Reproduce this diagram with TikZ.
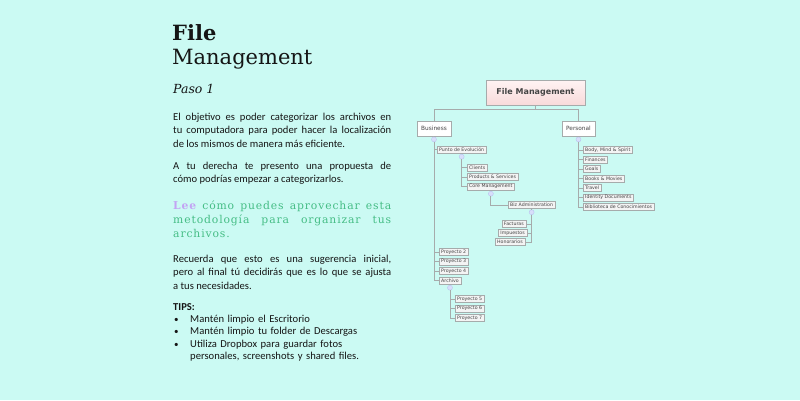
\documentclass[tikz,border=0pt]{standalone}
\usepackage{fontspec}
\usepackage{tikz}
\usetikzlibrary{positioning,calc}
\setmainfont{Carlito}
\newfontfamily\titlefont{DejaVu Serif}
\newfontfamily\spacedfont[LetterSpace=8]{DejaVu Serif}
\newfontfamily\boxfont{DejaVu Sans}
\definecolor{bg}{HTML}{CBFAF3}
\definecolor{ink}{HTML}{151515}
\definecolor{leafgreen}{HTML}{45BD85}
\definecolor{lilac}{HTML}{C3A3F3}
\definecolor{edge}{HTML}{A6ABAB}
\definecolor{boxink}{HTML}{444444}
\definecolor{leafgray}{HTML}{F4F4F4}
\definecolor{dotblue}{HTML}{D8DEFA}
\definecolor{knobedge}{HTML}{B9C3F0}
\definecolor{pinktop}{HTML}{FFF3F3}
\definecolor{pinkbot}{HTML}{F8DADA}

\begin{document}
\begin{tikzpicture}[x=1pt, y=-1pt,
body/.style={anchor=base west, inner sep=0, text width=218pt, align=justify, text=ink, font=\fontsize{10.6}{13.5}\selectfont},
rootbox/.style={draw=edge, top color=pinktop, bottom color=pinkbot, minimum width=99pt, minimum height=25pt, inner sep=0, text=boxink, font=\boxfont\bfseries\fontsize{8}{9}\selectfont},
mainbox/.style={draw=edge, fill=white, minimum height=15pt, inner xsep=3pt, inner ysep=0, text=boxink, font=\boxfont\fontsize{5.8}{7}\selectfont},
leafbox/.style={draw=edge, fill=leafgray, minimum height=7pt, inner xsep=2pt, inner ysep=0, text=boxink, font=\boxfont\fontsize{4.7}{5}\selectfont},
branch/.style={draw=edge, line width=0.8pt},
knob/.style={circle, draw=knobedge, fill=dotblue, inner sep=0, minimum size=5pt}
]
\useasboundingbox[fill=bg] (0,0) rectangle (800,400);

\node[anchor=north west, inner sep=0, align=left, text=ink, font=\titlefont\fontsize{21}{24}\selectfont] (title) at (172,24) {\textbf{File}\\Management};
\node[anchor=base west, inner sep=0, text=ink, font=\titlefont\itshape\fontsize{12.5}{14}\selectfont] (paso) at (173,93) {Paso 1};
\node[body] (intro) at (173,120) {El objetivo es poder categorizar los archivos en\linebreak tu computadora para poder hacer la localización\linebreak de los mismos de manera más eficiente.};
\node[body] (proposal) at (173,169) {A tu derecha te presento una propuesta de\linebreak cómo podrías empezar a categorizarlos.};
\node[body, text=leafgreen, font=\spacedfont\fontsize{10.8}{14}\selectfont] (readmore) at (173,209) {{\color{lilac}\bfseries Lee} cómo puedes aprovechar esta\linebreak metodología para organizar tus\linebreak archivos.};
\node[body] (reminder) at (173,262) {Recuerda que esto es una sugerencia inicial,\linebreak pero al final tú decidirás que es lo que se ajusta\linebreak a tus necesidades.};
\node[body, font=\bfseries\fontsize{10.6}{12.5}\selectfont] (tips) at (173,310) {TIPS:};
\node[body, align=left, font=\fontsize{10.6}{12.5}\selectfont] (tiplist) at (174,322) {\makebox[16pt][l]{\small\textbullet}Mantén limpio el Escritorio\\
\makebox[16pt][l]{\small\textbullet}Mantén limpio tu folder de Descargas\\
\makebox[16pt][l]{\small\textbullet}Utiliza Dropbox para guardar fotos\\
\hspace*{16pt}personales, screenshots y shared files.};

\node[rootbox] (root) at (535.5,92.5) {File Management};
\node[mainbox, minimum width=34pt] (business) at (434,128.5) {Business};
\node[mainbox, minimum width=33pt] (personal) at (578.5,128.5) {Personal};

\node[leafbox, anchor=west] (punto) at (437,149.5) {Punto de Evolución};
\node[leafbox, anchor=west] (clients) at (467,167.5) {Clients};
\node[leafbox, anchor=west] (products) at (467,177) {Products \& Services};
\node[leafbox, anchor=west] (core) at (467,186.5) {Core Management};
\node[leafbox, anchor=west] (biz) at (508,205) {Biz Administration};
\node[leafbox, anchor=east] (facturas) at (526,224) {Facturas};
\node[leafbox, anchor=east] (impuestos) at (527,233) {Impuestos};
\node[leafbox, anchor=east] (honorarios) at (525,242) {Honorarios};
\node[leafbox, anchor=west] (proy2) at (439,252) {Proyecto 2};
\node[leafbox, anchor=west] (proy3) at (439,261.5) {Proyecto 3};
\node[leafbox, anchor=west] (proy4) at (439,271) {Proyecto 4};
\node[leafbox, anchor=west] (archivo) at (439,280.5) {Archivo};
\node[leafbox, anchor=west] (proy5) at (455,299) {Proyecto 5};
\node[leafbox, anchor=west] (proy6) at (455,308.5) {Proyecto 6};
\node[leafbox, anchor=west] (proy7) at (455,318) {Proyecto 7};

\node[leafbox, anchor=west] (body) at (583,150) {Body, Mind \& Spirit};
\node[leafbox, anchor=west] (finances) at (583,159.5) {Finances};
\node[leafbox, anchor=west] (goals) at (583,169) {Goals};
\node[leafbox, anchor=west] (books) at (583,178.5) {Books \& Movies};
\node[leafbox, anchor=west] (travel) at (583,188) {Travel};
\node[leafbox, anchor=west] (identity) at (583,197.5) {Identity Documents};
\node[leafbox, anchor=west] (biblioteca) at (583,207) {Biblioteca de Conocimientos};

\node[knob, below=0.5pt of business] (bknob) {};
\node[knob, below=0.5pt of personal] (pknob) {};
\node[knob, below=0.8pt of punto] (eknob) {};
\node[knob, below=0.8pt of core] (cknob) {};
\node[knob, below=0.8pt of biz] (aknob) {};
\node[knob, below=0.8pt of archivo] (rknob) {};

\draw[branch] (root.south) -- ++(0,4) -| (business.north);
\draw[branch] (root.south) -- ++(0,4) -| (personal.north);

\draw[branch] (business) -- (bknob);
\draw[branch] (bknob.south) |- (punto.west);
\draw[branch] (bknob.south) |- (proy2.west);
\draw[branch] (bknob.south) |- (proy3.west);
\draw[branch] (bknob.south) |- (proy4.west);
\draw[branch] (bknob.south) |- (archivo.west);

\draw[branch] (punto) -- (eknob);
\draw[branch] (eknob.south) |- (clients.west);
\draw[branch] (eknob.south) |- (products.west);
\draw[branch] (eknob.south) |- (core.west);

\draw[branch] (core) -- (cknob);
\draw[branch] (cknob.south) |- (biz.west);

\draw[branch] (biz) -- (aknob);
\draw[branch] (aknob.south) |- (facturas.east);
\draw[branch] (aknob.south) |- (impuestos.east);
\draw[branch] (aknob.south) |- (honorarios.east);

\draw[branch] (archivo) -- (rknob);
\draw[branch] (rknob.south) |- (proy5.west);
\draw[branch] (rknob.south) |- (proy6.west);
\draw[branch] (rknob.south) |- (proy7.west);

\draw[branch] (personal) -- (pknob);
\draw[branch] (pknob.south) |- (body.west);
\draw[branch] (pknob.south) |- (finances.west);
\draw[branch] (pknob.south) |- (goals.west);
\draw[branch] (pknob.south) |- (books.west);
\draw[branch] (pknob.south) |- (travel.west);
\draw[branch] (pknob.south) |- (identity.west);
\draw[branch] (pknob.south) |- (biblioteca.west);
\end{tikzpicture}
\end{document}
